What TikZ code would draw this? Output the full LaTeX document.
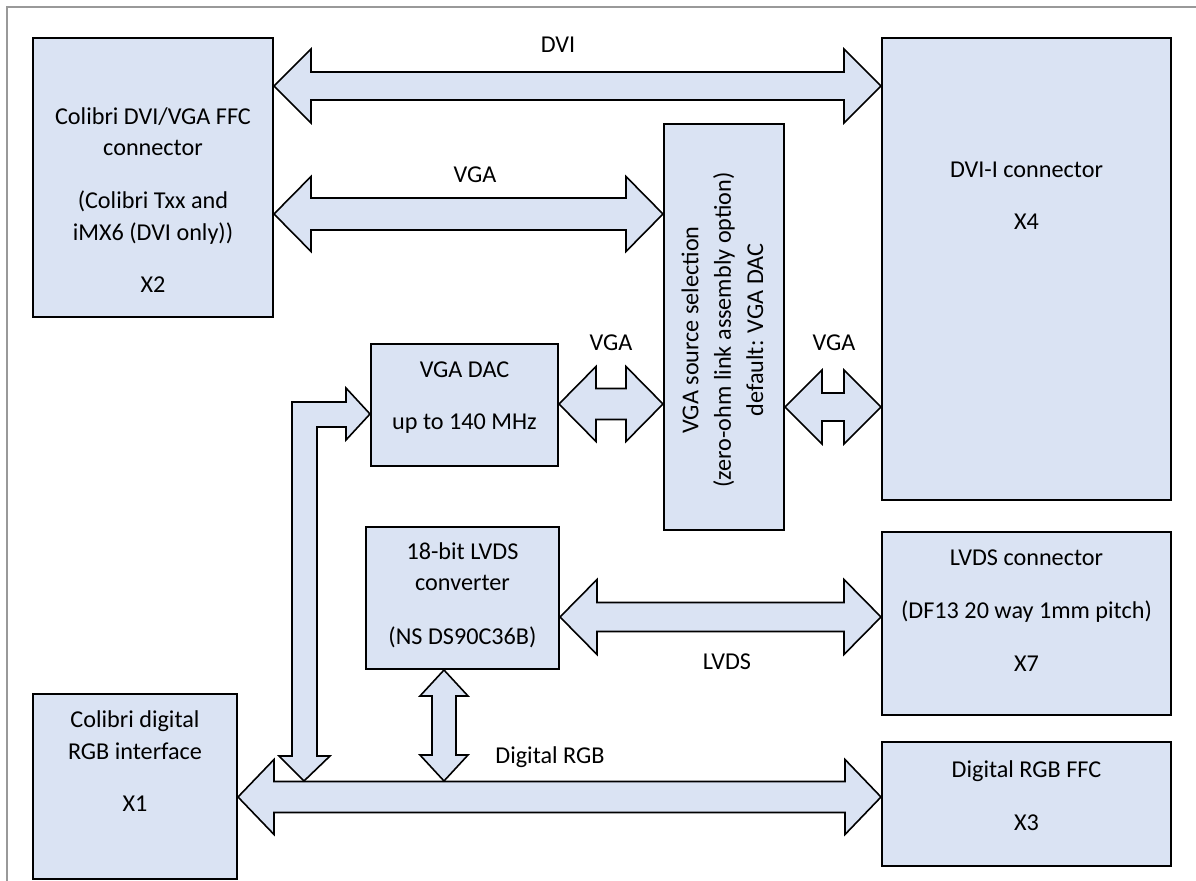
\documentclass[tikz,border=0pt]{standalone}
\usepackage{fontspec}
\setmainfont{Carlito}
\usetikzlibrary{calc}
\definecolor{boxblue}{RGB}{218,227,243}
\newcommand\hdbl[5]{\draw[bus] let \p1=#1, \p2=#2 in
 (\x1,\y1) -- ({\x1+#5*0.5pt},{\y1+#4*0.5pt}) -- ({\x1+#5*0.5pt},{\y1+#3*0.5pt})
 -- ({\x2-#5*0.5pt},{\y1+#3*0.5pt}) -- ({\x2-#5*0.5pt},{\y1+#4*0.5pt}) -- (\x2,\y1)
 -- ({\x2-#5*0.5pt},{\y1-#4*0.5pt}) -- ({\x2-#5*0.5pt},{\y1-#3*0.5pt})
 -- ({\x1+#5*0.5pt},{\y1-#3*0.5pt}) -- ({\x1+#5*0.5pt},{\y1-#4*0.5pt}) -- cycle;}
\newcommand\vdbl[5]{\draw[bus] let \p1=#1, \p2=#2 in
 (\x1,\y1) -- ({\x1+#4*0.5pt},{\y1-#5*0.5pt}) -- ({\x1+#3*0.5pt},{\y1-#5*0.5pt})
 -- ({\x1+#3*0.5pt},{\y2+#5*0.5pt}) -- ({\x1+#4*0.5pt},{\y2+#5*0.5pt}) -- (\x1,\y2)
 -- ({\x1-#4*0.5pt},{\y2+#5*0.5pt}) -- ({\x1-#3*0.5pt},{\y2+#5*0.5pt})
 -- ({\x1-#3*0.5pt},{\y1-#5*0.5pt}) -- ({\x1-#4*0.5pt},{\y1-#5*0.5pt}) -- cycle;}
\begin{document}
\begin{tikzpicture}[x=0.5pt,y=-0.5pt,
  box/.style={draw=black, fill=boxblue, line width=1pt, inner sep=0pt},
  txt/.style={align=center, inner sep=0pt, font=\fontsize{12.1}{15.7}\selectfont},
  bus/.style={draw=black, fill=boxblue, line width=0.8pt, line join=miter}]
\useasboundingbox (0,0) rectangle (1196,881);
\draw[gray!80, line width=0.7pt] (7,900) -- (7,7) -- (1220,7);

% boxes
\node[box, minimum width=120pt, minimum height=139.5pt] (x2) at (153,177.5) {};
\node[box, minimum width=144.5pt, minimum height=231pt] (x4) at (1026.5,269) {};
\node[box, minimum width=60pt, minimum height=203pt] (sel) at (724,327) {};
\node[box, minimum width=93.5pt, minimum height=61pt] (dac) at (464.5,405) {};
\node[box, minimum width=96.5pt, minimum height=71pt] (lvds) at (462.5,598) {};
\node[box, minimum width=144.5pt, minimum height=91.5pt] (x7) at (1026.5,623.5) {};
\node[box, minimum width=102pt, minimum height=92.5pt] (x1) at (135,786.5) {};
\node[box, minimum width=144.5pt, minimum height=62pt] (x3) at (1026.5,804) {};

% box texts
\node[txt] (x2t) at (153,200) {Colibri DVI/VGA FFC\\connector\\[11pt](Colibri Txx and\\iMX6 (DVI only))\\[10.5pt]X2};
\node[txt] (x4t) at (1026.5,196) {DVI-I connector\\[10.5pt]X4};
\node[txt, rotate=90] (selt) at (722.5,330) {VGA source selection\\[0.5pt](zero-ohm link assembly option)\\[0.5pt]default: VGA DAC};
\node[txt] (dact) at (464.5,397.5) {VGA DAC\\[10pt]up to 140 MHz};
\node[txt] (lvdst) at (462.5,595) {18-bit LVDS\\converter\\[11pt](NS DS90C36B)};
\node[txt] (x7t) at (1026.5,610.5) {LVDS connector\\[11pt](DF13 20 way 1mm pitch)\\[10.5pt]X7};
\node[txt] (x1t) at (135,761.5) {Colibri digital\\RGB interface\\[10.5pt]X1};
\node[txt] (x3t) at (1026.5,795.5) {Digital RGB FFC\\[11pt]X3};

% helper levels
\coordinate (yDVI) at (0,86);
\coordinate (yVGA) at (0,214);
\coordinate (yDAC) at (0,404);
\coordinate (ySEL) at (0,407);
\coordinate (yLV) at (0,617);
\coordinate (yRGB) at (0,797);
\coordinate (yTap) at (0,414);
\coordinate (rgbTap) at (444,781);
\coordinate (busTap) at (304,781);
\coordinate (dacTap) at (dac.west |- yTap);

% arrows
\hdbl{(x2.east |- yDVI)}{(x4.west |- yDVI)}{14}{37}{37}
\hdbl{(x2.east |- yVGA)}{(sel.west |- yVGA)}{16}{37.5}{37}
\hdbl{(dac.east |- yDAC)}{(sel.west |- yDAC)}{15.5}{37.5}{37}
\hdbl{(sel.east |- ySEL)}{(x4.west |- ySEL)}{14}{37}{37}
\hdbl{(lvds.east |- yLV)}{(x7.west |- yLV)}{14.5}{37.5}{37}
\hdbl{(x1.east |- yRGB)}{(x3.west |- yRGB)}{15.5}{37.5}{36}
\vdbl{(lvds.south -| rgbTap)}{(rgbTap)}{12}{24}{26}
\draw[bus] (busTap) -- ++(-25,-25) -- ++(13,0) -- (292,402) -- (346,402) -- (346,388)
  -- (dacTap) -- (346,440) -- (346,427) -- (317,427) -- (317,756) -- (330,756) -- cycle;

% labels
\node[txt] (lDVI) at (558,45) {DVI};
\node[txt] (lVGA1) at (475,175) {VGA};
\node[txt] (lVGA2) at (611,343) {VGA};
\node[txt] (lVGA3) at (834,343) {VGA};
\node[txt] (lLVDS) at (727,662) {LVDS};
\node[txt] (lRGB) at (550,757) {Digital RGB};
\end{tikzpicture}
\end{document}
